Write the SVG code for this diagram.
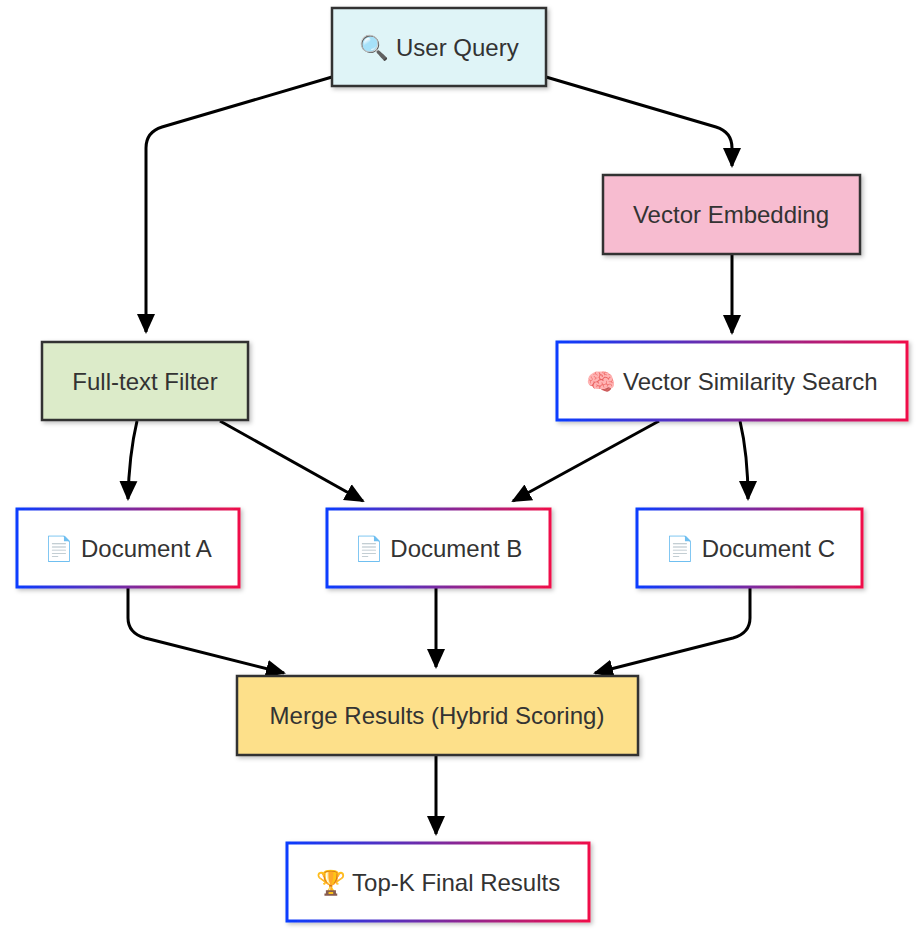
<svg xmlns="http://www.w3.org/2000/svg" width="922" height="933" viewBox="0 0 922 933">
<defs>
<linearGradient id="g" x1="0" y1="0" x2="1" y2="0"><stop offset="0" stop-color="#0a3cff"/><stop offset="0.5" stop-color="#7a2aa0"/><stop offset="1" stop-color="#f0104a"/></linearGradient>
<marker id="a" markerUnits="userSpaceOnUse" markerWidth="20" markerHeight="20" viewBox="0 0 20 20" refX="18" refY="10" orient="auto"><path d="M0,1 L20,10 L0,19 Z" fill="#000"/></marker>
<filter id="s" x="-10%" y="-10%" width="130%" height="130%"><feDropShadow dx="2" dy="2" stdDeviation="2" flood-opacity="0.25"/></filter>
</defs>
<style>
text{font-family:"Liberation Sans",Arial,sans-serif;font-size:24px;fill:#333;text-anchor:middle;dominant-baseline:central}
.n{stroke:#333;stroke-width:2.5;filter:url(#s)}
.gb{fill:#fff;stroke:url(#g);stroke-width:3;filter:url(#s)}
#edges path{fill:none;stroke:#000;stroke-width:3;marker-end:url(#a)}
</style>
<g id="edges">
<path d="M332,77 L162,127 Q146,132 146,148 L146,332"/>
<path d="M546,77 L716,127 Q732,132 732,148 L732,166"/>
<path d="M732,254 L732,333"/>
<path d="M137,421 Q129,455 128,499"/>
<path d="M220,421 L363,501"/>
<path d="M659,421 L513,501"/>
<path d="M740,421 Q748,455 748,499"/>
<path d="M128,588 L128,618 Q128,633 145,638 L284,673"/>
<path d="M436,588 L436,667"/>
<path d="M750,588 L750,618 Q750,633 733,638 L595,673"/>
<path d="M436,756 L436,834"/>
</g>
<g id="userQuery"><rect class="n" x="332" y="8" width="214" height="78" fill="#dff4f7"/><text x="439" y="47">🔍 User Query</text></g>
<g id="vectorEmbedding"><rect class="n" x="603" y="175" width="257" height="79" fill="#f7bcd0"/><text x="731" y="214">Vector Embedding</text></g>
<g id="fullText"><rect class="n" x="42" y="342" width="206" height="78" fill="#dcebc9"/><text x="145" y="381">Full-text Filter</text></g>
<g id="vectorSearch"><rect class="gb" x="557" y="342" width="350" height="78"/><text x="732" y="381">🧠 Vector Similarity Search</text></g>
<g id="docA"><rect class="gb" x="17" y="509" width="222" height="78"/><text x="128" y="548">📄 Document A</text></g>
<g id="docB"><rect class="gb" x="327" y="509" width="223" height="78"/><text x="438" y="548">📄 Document B</text></g>
<g id="docC"><rect class="gb" x="637" y="509" width="225" height="78"/><text x="750" y="548">📄 Document C</text></g>
<g id="merge"><rect class="n" x="237" y="676" width="401" height="79" fill="#fde08a"/><text x="437" y="715">Merge Results (Hybrid Scoring)</text></g>
<g id="topK"><rect class="gb" x="287" y="843" width="302" height="78"/><text x="438" y="882">🏆 Top-K Final Results</text></g>
</svg>
